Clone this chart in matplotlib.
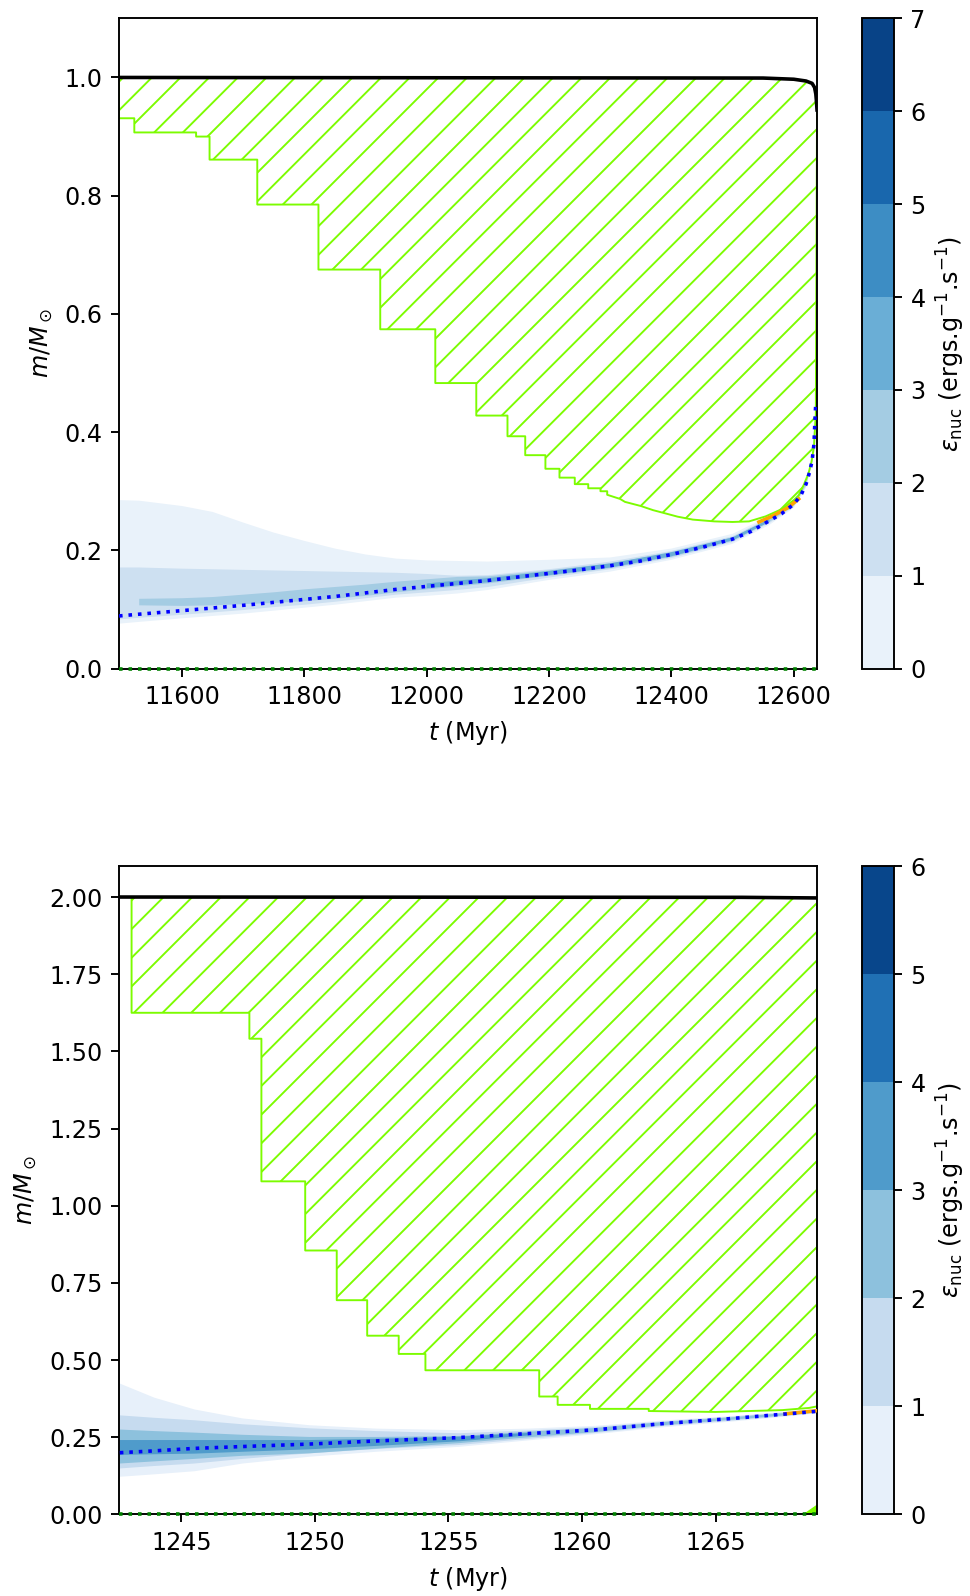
import numpy as np
import matplotlib
matplotlib.use('Agg')
import matplotlib.pyplot as plt
from matplotlib.colors import ListedColormap, BoundaryNorm
from matplotlib.cm import ScalarMappable

DPI = 172
plt.rcParams['hatch.linewidth'] = 0.8
plt.rcParams['hatch.color'] = 'lawngreen'

# ---------------- top panel (1 Msun) ----------------
xlim_top = (11497, 12638)
mass_t_top = [11497, 12550, 12600, 12620, 12630, 12634, 12636, 12637, 12638]
mass_m_top = [1.0, 0.999, 0.997, 0.994, 0.99, 0.983, 0.972, 0.96, 0.945]

core_t_top = [11497, 11530, 11600, 11650, 11700, 11750, 11800, 11850, 11900, 11950, 12000, 12050,
              12100, 12150, 12200, 12250, 12300, 12350, 12400, 12450, 12500, 12530, 12560, 12580,
              12600, 12612, 12620, 12626, 12630, 12633, 12635, 12636]
core_m_top = [0.089, 0.092, 0.098, 0.1025, 0.107, 0.112, 0.117, 0.122, 0.128, 0.134, 0.139, 0.144,
              0.149, 0.155, 0.161, 0.167, 0.174, 0.182, 0.193, 0.205, 0.219, 0.232, 0.250, 0.262,
              0.278, 0.294, 0.312, 0.333, 0.352, 0.38, 0.43, 0.45]

conv_t_top = [11497, 11522, 11522, 11623, 11623, 11645, 11645, 11723, 11723, 11823, 11823, 11924, 11924,
              12014, 12014, 12081, 12081, 12132, 12132, 12161, 12161, 12194, 12194, 12217, 12217,
              12242, 12242, 12264, 12264, 12284, 12284, 12295, 12295, 12316, 12324, 12350, 12370,
              12392, 12410, 12435, 12470, 12500, 12527, 12554, 12581, 12600, 12608, 12616, 12624,
              12629, 12633, 12636, 12638]
conv_lo_top = [0.931, 0.931, 0.907, 0.907, 0.900, 0.900, 0.861, 0.861, 0.785, 0.785, 0.675, 0.675, 0.574,
               0.574, 0.483, 0.483, 0.428, 0.428, 0.393, 0.393, 0.361, 0.361, 0.338, 0.338, 0.323,
               0.323, 0.312, 0.312, 0.305, 0.305, 0.300, 0.300, 0.294, 0.287, 0.282, 0.275, 0.268,
               0.262, 0.257, 0.252, 0.249, 0.248, 0.249, 0.2575, 0.270, 0.285, 0.293, 0.31, 0.33,
               0.35, 0.375, 0.43, 0.945]

orange_t_top = [12543, 12565, 12590, 12608]
orange_m_top = [0.248, 0.258, 0.272, 0.287]

eps_t_top = [11497, 11530, 11600, 11650, 11700, 11750, 11800, 11850, 11900, 11950, 12000, 12050,
             12100, 12200, 12300, 12400, 12500, 12560, 12600, 12620, 12630, 12636]
nan = np.nan
eps_hi_top = [
    [0.285, 0.284, 0.275, 0.265, 0.247, 0.230, 0.216, 0.203, 0.193, 0.186, 0.183, 0.182,
     0.181, 0.184, 0.188, 0.203, 0.228, 0.258, 0.286, 0.318, 0.357, 0.45],
    [0.171, 0.171, 0.169, 0.168, 0.167, 0.166, 0.165, 0.164, 0.163, 0.162, 0.160, 0.157,
     0.158, 0.168, 0.181, 0.199, 0.224, 0.255, 0.283, 0.316, 0.355, 0.45],
    [nan, 0.118, 0.119, 0.121, 0.125, 0.129, 0.134, 0.138, 0.142, 0.147, 0.151, 0.155,
     0.156, 0.166, 0.178, 0.196, 0.222, 0.253, 0.281, 0.315, 0.354, 0.45],
    [nan, nan, nan, nan, nan, nan, nan, nan, nan, nan, 0.144, 0.149,
     0.153, 0.165, 0.178, 0.197, 0.222, 0.253, nan, nan, nan, nan],
]
eps_lo_top = [
    [0.076, 0.079, 0.085, 0.089, 0.093, 0.098, 0.103, 0.108, 0.114, 0.120, 0.123, 0.127,
     0.133, 0.150, 0.164, 0.184, 0.211, 0.243, 0.272, 0.306, 0.347, 0.445],
    [0.083, 0.086, 0.091, 0.095, 0.099, 0.104, 0.108, 0.113, 0.119, 0.125, 0.129, 0.133,
     0.138, 0.154, 0.168, 0.187, 0.214, 0.246, 0.274, 0.308, 0.349, 0.445],
    [nan, 0.107, 0.106, 0.107, 0.109, 0.111, 0.114, 0.118, 0.123, 0.129, 0.134, 0.139,
     0.144, 0.157, 0.170, 0.189, 0.216, 0.248, 0.276, 0.310, 0.350, 0.447],
    [nan, nan, nan, nan, nan, nan, nan, nan, nan, nan, 0.136, 0.141,
     0.146, 0.158, 0.171, 0.190, 0.217, 0.248, nan, nan, nan, nan],
]
nlev_top = 7

# ---------------- bottom panel (2 Msun) ----------------
xlim_bot = (1242.67, 1268.8)
mass_t_bot = [1242.67, 1266.0, 1268.8]
mass_m_bot = [2.0, 1.999, 1.997]

core_t_bot = [1242.7, 1244, 1245.5, 1247.3, 1249.8, 1252.3, 1255.4, 1258, 1260.5, 1263, 1265.5, 1268, 1268.8]
core_m_bot = [0.200, 0.206, 0.214, 0.220, 0.228, 0.238, 0.249, 0.262, 0.274, 0.294, 0.310, 0.328, 0.334]

conv_t_bot = [1243.14, 1247.55, 1247.55, 1248.0, 1248.0, 1249.64, 1249.64, 1250.82, 1250.82, 1251.96,
              1251.96, 1253.14, 1253.14, 1254.14, 1254.14, 1258.40, 1258.40, 1259.09, 1259.09, 1260.30,
              1260.30, 1262.5, 1262.5, 1265.0, 1267.5, 1268.5, 1268.8]
conv_lo_bot = [1.625, 1.625, 1.541, 1.541, 1.079, 1.079, 0.855, 0.855, 0.694, 0.694,
               0.579, 0.579, 0.52, 0.52, 0.467, 0.467, 0.382, 0.382, 0.355, 0.355,
               0.342, 0.342, 0.335, 0.332, 0.338, 0.345, 0.35]

orange_t_bot = [1267.6, 1268.8]
orange_m_bot = [0.326, 0.336]

core_conv_t_bot = [1268.3, 1268.8]
core_conv_m_bot = [0.0, 0.03]

eps_t_bot = [1242.7, 1244, 1245.5, 1247.3, 1249.8, 1252.3, 1255.4, 1258, 1260.5, 1263, 1265.5, 1268, 1268.8]
eps_hi_bot = [
    [0.424, 0.378, 0.340, 0.311, 0.289, 0.278, 0.273, 0.278, 0.287, 0.304, 0.318, 0.335, 0.340],
    [0.321, 0.313, 0.305, 0.292, 0.279, 0.270, 0.263, 0.272, 0.283, 0.301, 0.316, 0.333, 0.338],
    [0.275, 0.270, 0.265, 0.258, 0.251, 0.251, 0.254, 0.268, 0.280, 0.299, 0.314, 0.331, 0.337],
    [0.241, 0.241, 0.241, 0.241, 0.241, 0.245, 0.252, 0.264, nan, nan, nan, nan, nan],
]
eps_lo_bot = [
    [0.122, 0.130, 0.140, 0.165, 0.187, 0.203, 0.219, 0.240, 0.260, 0.282, 0.300, 0.320, 0.328],
    [0.149, 0.157, 0.165, 0.180, 0.198, 0.212, 0.225, 0.245, 0.264, 0.286, 0.303, 0.322, 0.330],
    [0.165, 0.172, 0.180, 0.190, 0.198, 0.213, 0.231, 0.250, 0.267, 0.289, 0.306, 0.324, 0.331],
    [0.193, 0.195, 0.197, 0.203, 0.211, 0.222, 0.237, 0.256, nan, nan, nan, nan, nan],
]
nlev_bot = 6


def kipp(ax, cax, xlim, mtot, mass_t, mass_m, core_t, core_m, conv_t, conv_lo,
         eps_t, eps_lo, eps_hi, nlev, orange_t, orange_m, xticks, yticks, yfmt):
    colors = [plt.cm.Blues((k + 0.5) / nlev) for k in range(nlev)]
    for k in range(len(eps_lo)):
        ax.fill_between(eps_t, eps_lo[k], eps_hi[k], facecolor=colors[k], edgecolor='none', zorder=1)

    conv_hi = np.interp(conv_t, mass_t, mass_m)
    ax.fill_between(conv_t, conv_lo, conv_hi, facecolor='none', edgecolor='lawngreen',
                    hatch='//', lw=0.8, zorder=2)

    ax.plot(orange_t, orange_m, color='orange', lw=1.5, zorder=3)
    ax.plot(core_t, core_m, ':', color='blue', lw=1.5, zorder=4)
    ax.plot(xlim, [0, 0], ':', color='green', lw=1.5, zorder=6, clip_on=False)
    ax.plot(mass_t, mass_m, color='k', lw=1.5, zorder=5)

    ax.set_xlim(xlim)
    ax.set_ylim(0, mtot + 0.1)
    ax.set_xticks(xticks)
    ax.set_yticks(yticks)
    ax.set_yticklabels([yfmt % v for v in yticks])
    ax.set_xlabel(r'$t$ (Myr)')
    ax.set_ylabel(r'$m/M_\odot$')

    levels = np.arange(nlev + 1)
    sm = ScalarMappable(norm=BoundaryNorm(levels, nlev), cmap=ListedColormap(colors))
    cb = plt.colorbar(sm, cax=cax, ticks=levels)
    cb.set_label(r'$\varepsilon_{\rm nuc}$ (ergs.g$^{-1}$.s$^{-1}$)')


fig = plt.figure(figsize=(970 / DPI, 1596 / DPI), dpi=DPI)
ax1 = fig.add_axes([0.1227, 0.5811, 0.7196, 0.4074])
cax1 = fig.add_axes([0.8887, 0.5811, 0.0326, 0.4074])
ax2 = fig.add_axes([0.1227, 0.0511, 0.7196, 0.4062])
cax2 = fig.add_axes([0.8887, 0.0511, 0.0326, 0.4062])

kipp(ax1, cax1, xlim_top, 1.0, mass_t_top, mass_m_top, core_t_top, core_m_top,
     conv_t_top, conv_lo_top, eps_t_top, eps_lo_top, eps_hi_top, nlev_top,
     orange_t_top, orange_m_top, np.arange(11600, 12601, 200), np.arange(0, 1.01, 0.2), '%.1f')
kipp(ax2, cax2, xlim_bot, 2.0, mass_t_bot, mass_m_bot, core_t_bot, core_m_bot,
     conv_t_bot, conv_lo_bot, eps_t_bot, eps_lo_bot, eps_hi_bot, nlev_bot,
     orange_t_bot, orange_m_bot, np.arange(1245, 1266, 5), np.arange(0, 2.01, 0.25), '%.2f')
ax2.fill_between(core_conv_t_bot, 0, core_conv_m_bot, color='lawngreen', zorder=2)

fig.savefig('out.png', dpi=DPI)
